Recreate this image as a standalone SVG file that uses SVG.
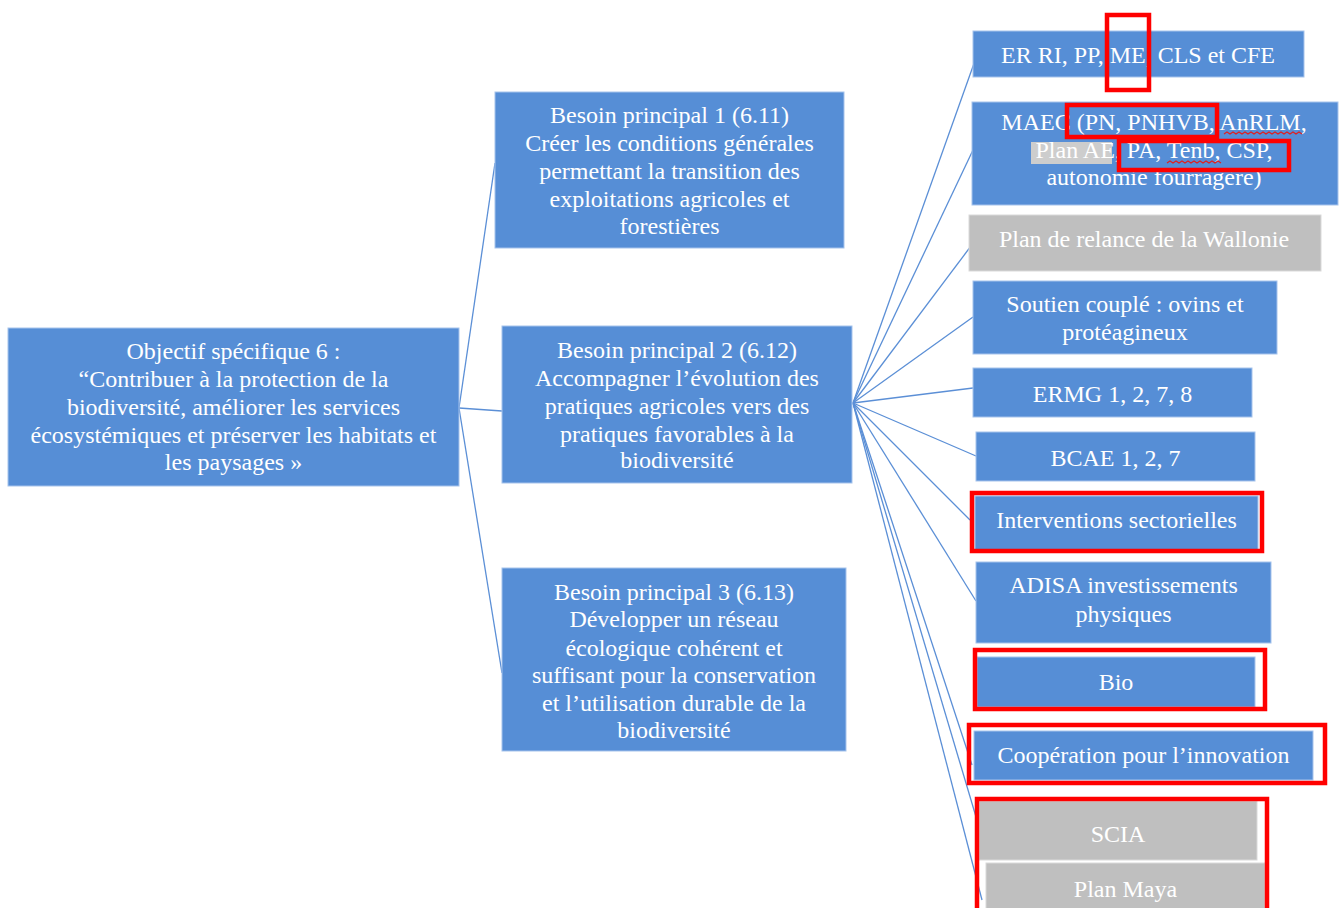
<svg xmlns="http://www.w3.org/2000/svg" width="1341" height="908" viewBox="0 0 1341 908">
<style>
  .b { fill: #568ed6; stroke: #a6c3ec; stroke-width: 1; }
  .g { fill: #bfbfbf; stroke: #d9d9d9; stroke-width: 1; }
  .t { font-family: "Liberation Serif", "Times New Roman", serif; font-size: 24px; fill: #ffffff; text-anchor: middle; }
  .c { stroke: #5b8fd6; stroke-width: 1.3; fill: none; }
  .r { fill: none; stroke: #ff0000; stroke-width: 4.5; }
  .sq { fill: none; stroke: #e02020; stroke-width: 1.2; }
</style>
<rect width="1341" height="908" fill="#ffffff"/>

<g id="connectors">
  <line class="c" x1="459" y1="408" x2="495" y2="163"/>
  <line class="c" x1="459" y1="408" x2="502" y2="411"/>
  <line class="c" x1="459" y1="408" x2="502" y2="673"/>
  <line class="c" x1="853" y1="403" x2="977" y2="55"/>
  <line class="c" x1="853" y1="403" x2="973" y2="150"/>
  <line class="c" x1="853" y1="403" x2="971" y2="246"/>
  <line class="c" x1="853" y1="403" x2="973" y2="317"/>
  <line class="c" x1="853" y1="403" x2="973" y2="388"/>
  <line class="c" x1="853" y1="403" x2="976" y2="456"/>
  <line class="c" x1="853" y1="403" x2="970" y2="520"/>
  <line class="c" x1="853" y1="403" x2="976" y2="601"/>
  <line class="c" x1="853" y1="403" x2="972" y2="765"/>
  <line class="c" x1="853" y1="403" x2="982" y2="837"/>
  <line class="c" x1="853" y1="403" x2="982" y2="900"/>
</g>

<g id="objectif">
  <rect class="b" x="8" y="328" width="451" height="158"/>
  <text class="t" x="233.5" y="359">Objectif spécifique 6 :</text>
  <text class="t" x="233.5" y="387">“Contribuer à la protection de la</text>
  <text class="t" x="233.5" y="415">biodiversité, améliorer les services</text>
  <text class="t" x="233.5" y="443">écosystémiques et préserver les habitats et</text>
  <text class="t" x="233.5" y="470">les paysages »</text>
</g>

<g id="besoin1">
  <rect class="b" x="495" y="92" width="349" height="156"/>
  <text class="t" x="669.5" y="123">Besoin principal 1 (6.11)</text>
  <text class="t" x="669.5" y="151">Créer les conditions générales</text>
  <text class="t" x="669.5" y="179">permettant la transition des</text>
  <text class="t" x="669.5" y="207">exploitations agricoles et</text>
  <text class="t" x="669.5" y="234">forestières</text>
</g>

<g id="besoin2">
  <rect class="b" x="502" y="326" width="350" height="157"/>
  <text class="t" x="677" y="358">Besoin principal 2 (6.12)</text>
  <text class="t" x="677" y="386">Accompagner l’évolution des</text>
  <text class="t" x="677" y="414">pratiques agricoles vers des</text>
  <text class="t" x="677" y="442">pratiques favorables à la</text>
  <text class="t" x="677" y="468">biodiversité</text>
</g>

<g id="besoin3">
  <rect class="b" x="502" y="568" width="344" height="183"/>
  <text class="t" x="674" y="600">Besoin principal 3 (6.13)</text>
  <text class="t" x="674" y="627">Développer un réseau</text>
  <text class="t" x="674" y="656">écologique cohérent et</text>
  <text class="t" x="674" y="683">suffisant pour la conservation</text>
  <text class="t" x="674" y="711">et l’utilisation durable de la</text>
  <text class="t" x="674" y="738">biodiversité</text>
</g>

<g id="er-ri">
  <rect class="b" x="973" y="31" width="331" height="46"/>
  <text class="t" x="1138" y="63">ER RI, PP, ME, CLS et CFE</text>
  <rect class="r" x="1107" y="15" width="42" height="75"/>
</g>

<g id="maec">
  <rect class="b" x="972" y="102" width="366" height="103"/>
  <rect x="1031" y="142" width="81" height="22" fill="#cdcdcd"/>
  <text class="t" x="1154" y="130">MAEC (PN, PNHVB, AnRLM,</text>
  <text class="t" x="1154" y="158">Plan AE, PA, Tenb, CSP,</text>
  <text class="t" x="1154" y="185">autonomie fourragère)</text>
  <path class="sq" d="M1224 134 l3 -2 l3 2 l3 -2 l3 2 l3 -2 l3 2 l3 -2 l3 2 l3 -2 l3 2 l3 -2 l3 2 l3 -2 l3 2 l3 -2 l3 2 l3 -2 l3 2 l3 -2 l3 2 l3 -2 l3 2 l3 -2 l3 2 l3 -2 l3 2"/>
  <path class="sq" d="M1167 163 l3 -2 l3 2 l3 -2 l3 2 l3 -2 l3 2 l3 -2 l3 2 l3 -2 l3 2 l3 -2 l3 2 l3 -2 l3 2 l3 -2 l3 2 l3 -2 l3 2"/>
  <rect class="r" x="1067" y="105" width="150" height="32"/>
  <rect class="r" x="1119" y="141" width="170" height="29"/>
</g>

<g id="plan-relance">
  <rect class="g" x="969" y="215" width="352" height="56"/>
  <text class="t" x="1144" y="247">Plan de relance de la Wallonie</text>
</g>

<g id="soutien-couple">
  <rect class="b" x="973" y="281" width="304" height="73"/>
  <text class="t" x="1125" y="312">Soutien couplé : ovins et</text>
  <text class="t" x="1125" y="340">protéagineux</text>
</g>

<g id="ermg">
  <rect class="b" x="973" y="368" width="279" height="49"/>
  <text class="t" x="1112.5" y="402">ERMG 1, 2, 7, 8</text>
</g>

<g id="bcae">
  <rect class="b" x="976" y="432" width="279" height="49"/>
  <text class="t" x="1115.5" y="466">BCAE 1, 2, 7</text>
</g>

<g id="interventions">
  <rect class="b" x="975" y="496" width="283" height="54"/>
  <text class="t" x="1116.5" y="528">Interventions sectorielles</text>
  <rect class="r" x="972" y="493" width="290" height="58"/>
</g>

<g id="adisa">
  <rect class="b" x="976" y="562" width="295" height="81"/>
  <text class="t" x="1123.5" y="593">ADISA investissements</text>
  <text class="t" x="1123.5" y="622">physiques</text>
</g>

<g id="bio">
  <rect class="b" x="977" y="657" width="278" height="50"/>
  <text class="t" x="1116" y="690">Bio</text>
  <rect class="r" x="975" y="650" width="290" height="59"/>
</g>

<g id="cooperation">
  <rect class="b" x="974" y="731" width="339" height="49"/>
  <text class="t" x="1143.5" y="763">Coopération pour l’innovation</text>
  <rect class="r" x="969" y="725" width="356" height="58"/>
</g>

<g id="scia">
  <rect class="g" x="979" y="801" width="278" height="59"/>
  <text class="t" x="1118" y="842">SCIA</text>
</g>

<g id="plan-maya">
  <rect class="g" x="986" y="863" width="279" height="60"/>
  <text class="t" x="1125.5" y="897">Plan Maya</text>
</g>

<g id="highlight-scia-maya">
  <rect class="r" x="977" y="799" width="290" height="120"/>
</g>
</svg>
